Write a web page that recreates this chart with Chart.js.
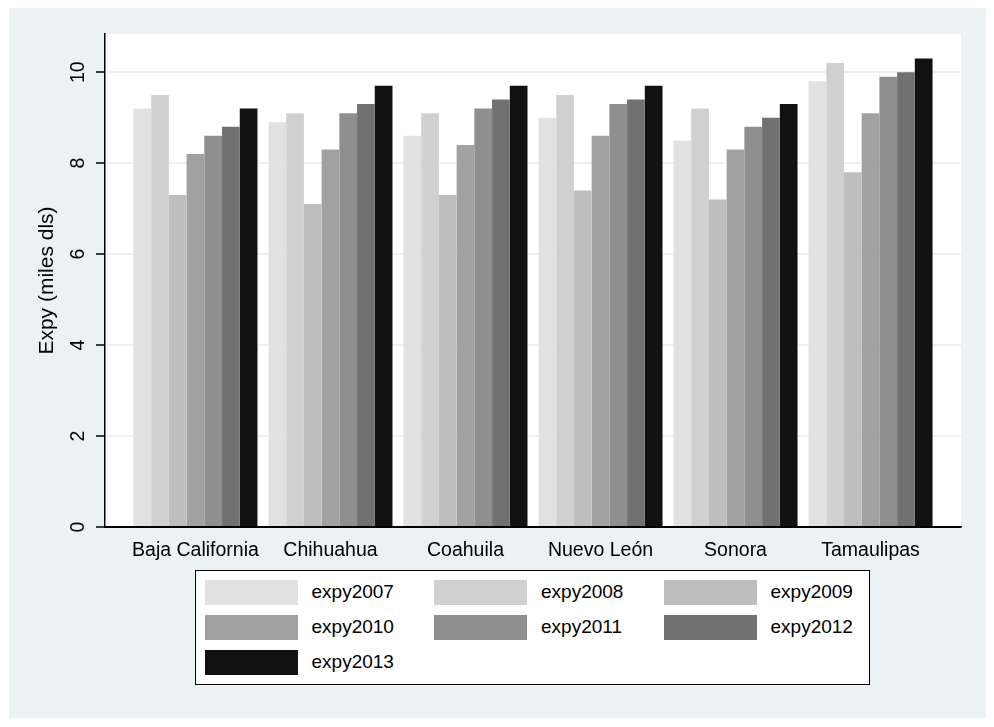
<!DOCTYPE html>
<html>
<head>
<meta charset="utf-8">
<script src="https://cdn.jsdelivr.net/npm/chart.js@4/dist/chart.umd.min.js"></script>
<style>
  html, body { margin: 0; padding: 0; background: #fff; }
  #wrap { position: relative; width: 994px; height: 727px; }
  #legend {
    position: absolute; left: 195px; top: 570px; width: 675px; height: 115px;
    box-sizing: border-box; border: 1.5px solid #000; background: #fff;
    font-family: 'Liberation Sans', Arial, sans-serif; font-size: 19px; color: #000;
  }
  #legend ul { list-style: none; margin: 0; padding: 0; }
  #legend li { position: absolute; display: flex; align-items: center; height: 25px; white-space: nowrap; }
  #legend .sw { width: 93px; height: 25px; margin-right: 14px; }
</style>
</head>
<body>
<div id="wrap">
  <canvas id="expyChart" width="994" height="727"></canvas>
  <div id="legend"></div>
</div>
<script>
const categories = ['Baja California', 'Chihuahua', 'Coahuila', 'Nuevo León', 'Sonora', 'Tamaulipas'];
const expy2007 = [9.2, 8.9, 8.6, 9.0, 8.5, 9.8];
const expy2008 = [9.5, 9.1, 9.1, 9.5, 9.2, 10.2];
const expy2009 = [7.3, 7.1, 7.3, 7.4, 7.2, 7.8];
const expy2010 = [8.2, 8.3, 8.4, 8.6, 8.3, 9.1];
const expy2011 = [8.6, 9.1, 9.2, 9.3, 8.8, 9.9];
const expy2012 = [8.8, 9.3, 9.4, 9.4, 9.0, 10.0];
const expy2013 = [9.2, 9.7, 9.7, 9.7, 9.3, 10.3];
const seriesNames = ['expy2007', 'expy2008', 'expy2009', 'expy2010', 'expy2011', 'expy2012', 'expy2013'];
const yTicks = [0, 2, 4, 6, 8, 10];

const seriesValues = [expy2007, expy2008, expy2009, expy2010, expy2011, expy2012, expy2013];
const greys = ['#e1e1e1', '#d0d0d0', '#bebebe', '#a1a1a1', '#8f8f8f', '#717171', '#111111'];
const bgBlue = '#eaf2f3';

Chart.defaults.font.family = "'Liberation Sans', Arial, sans-serif";
Chart.defaults.color = '#000';

// stata-like background: light outer frame, white plot region
const backdrop = {
    id: 'backdrop',
    beforeDraw(chart) {
        const { ctx, chartArea } = chart;
        ctx.save();
        ctx.fillStyle = bgBlue;
        ctx.fillRect(9, 8, 977, 710);
        ctx.fillStyle = '#fff';
        ctx.fillRect(chartArea.left, chartArea.top, chartArea.width, chartArea.height);
        ctx.restore();
    }
};

// legend as html, built from the chart's own legend items
const htmlLegend = {
    id: 'htmlLegend',
    afterUpdate(chart) {
        const box = document.getElementById('legend');
        box.innerHTML = '';
        const ul = document.createElement('ul');
        const items = chart.options.plugins.legend.labels.generateLabels(chart);
        items.forEach((item, i) => {
            const li = document.createElement('li');
            li.style.left = (8.5 + (i % 3) * 229.5) + 'px';
            li.style.top = (8.5 + Math.floor(i / 3) * 35) + 'px';
            const sw = document.createElement('span');
            sw.className = 'sw';
            sw.style.background = item.fillStyle;
            const txt = document.createElement('span');
            txt.textContent = item.text;
            li.appendChild(sw);
            li.appendChild(txt);
            ul.appendChild(li);
        });
        box.appendChild(ul);
    }
};

const ctx = document.getElementById('expyChart').getContext('2d');
new Chart(ctx, {
    type: 'bar',
    data: {
        labels: categories.map((c, i) => i),
        datasets: seriesNames.map((name, k) => ({
            label: name,
            data: seriesValues[k],
            backgroundColor: greys[k],
            borderWidth: 0,
            categoryPercentage: 0.9185,
            barPercentage: 1
        }))
    },
    options: {
        responsive: false,
        animation: false,
        layout: { padding: { left: 0, top: 34, right: 33, bottom: 160 } },
        plugins: {
            legend: { display: false },
            tooltip: { enabled: false }
        },
        scales: {
            x: {
                type: 'linear',
                offset: false,
                min: -0.67,
                max: 5.67,
                grid: { display: false, offset: false },
                border: { color: '#000', width: 1.5 },
                afterBuildTicks: (axis) => { axis.ticks = categories.map((c, i) => ({ value: i })); },
                afterFit: (axis) => { axis.height = 40; },
                ticks: {
                    autoSkip: false,
                    maxRotation: 0,
                    padding: 4,
                    font: { size: 19.5 },
                    callback: (v) => categories[v]
                }
            },
            y: {
                min: 0,
                max: 10.84,
                afterBuildTicks: (axis) => { axis.ticks = yTicks.map(v => ({ value: v })); },
                afterFit: (axis) => { axis.width = 105; },
                grid: {
                    color: (c) => c.tick && c.tick.value === 0 ? '#000' : bgBlue,
                    lineWidth: 2,
                    tickColor: '#000',
                    tickLength: 9,
                    tickWidth: 1.5
                },
                border: { color: '#000', width: 1.5 },
                ticks: {
                    minRotation: 90,
                    maxRotation: 90,
                    crossAlign: 'center',
                    padding: 7,
                    font: { size: 19.5 }
                },
                title: {
                    display: true,
                    text: 'Expy (miles dls)',
                    font: { size: 21 },
                    padding: { top: 35, bottom: 0 }
                }
            }
        }
    },
    plugins: [backdrop, htmlLegend]
});
</script>
</body>
</html>
